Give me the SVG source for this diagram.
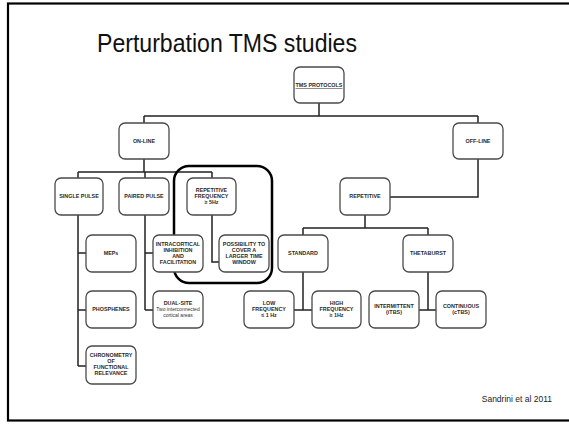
<svg xmlns="http://www.w3.org/2000/svg" width="569" height="426" viewBox="0 0 569 426">
<style>
.box{fill:#fff;stroke:#4a4a4a;stroke-width:1.3}
.t{font-family:"Liberation Sans",Arial,sans-serif;font-weight:bold;font-size:5.4px;fill:#2a2a2a;text-anchor:middle}
.n{font-family:"Liberation Sans",Arial,sans-serif;font-size:5px;fill:#333;text-anchor:middle}
.c{fill:none;stroke:#222;stroke-width:1.5}
</style>
<rect x="0" y="0" width="569" height="426" fill="#fff"/>
<rect id="frame" x="8" y="3.5" width="580" height="417" fill="none" stroke="#000" stroke-width="2.2"/>
<text x="97" y="52" font-family="Liberation Sans,Arial,sans-serif" font-size="26" fill="#111" textLength="260" lengthAdjust="spacingAndGlyphs">Perturbation TMS studies</text>
<text x="552" y="402" font-family="Liberation Sans,Arial,sans-serif" font-size="8.5" fill="#222" text-anchor="end">Sandrini et al 2011</text>

<g id="connectors" class="c">
<path d="M319,103V116M144,116H478M144,116V123M478,116V123"/>
<path d="M144,159V172M78,172H212M78,172V178M145,172V178M212,172V178"/>
<path d="M78,215V366M78,253H86M78,310H86M78,366H86"/>
<path d="M145,215V310M145,253H153M145,310H153"/>
<path d="M212,215V262H219"/>
<path d="M478,159V197H390"/>
<path d="M365,215V228M303,228H428M303,228V235M428,228V235"/>
<path d="M303,272V310M294,310H312"/>
<path d="M428,272V310M419,310H436"/>
</g>

<g id="highlight"><rect x="174" y="166" width="98" height="117" rx="15" fill="none" stroke="#000" stroke-width="2.5"/></g>

<g id="tms"><rect class="box" x="294" y="67" width="50" height="36" rx="6"/><text class="t" x="319" y="87" text-decoration="underline">TMS PROTOCOLS</text></g>
<g id="online"><rect class="box" x="119" y="123" width="50" height="36" rx="6"/><text class="t" x="144" y="143">ON-LINE</text></g>
<g id="offline"><rect class="box" x="453" y="123" width="50" height="36" rx="6"/><text class="t" x="478" y="143">OFF-LINE</text></g>
<g id="single"><rect class="box" x="55" y="178" width="48" height="37" rx="6"/><text class="t" x="79" y="198">SINGLE PULSE</text></g>
<g id="paired"><rect class="box" x="119" y="178" width="50" height="37" rx="6"/><text class="t" x="144" y="198">PAIRED PULSE</text></g>
<g id="repfreq"><rect class="box" x="187" y="178" width="49" height="37" rx="6"/><text class="t" x="211.5" y="192">REPETITIVE</text><text class="t" x="211.5" y="198">FREQUENCY</text><text class="t" x="211.5" y="204">≥ 5Hz</text></g>
<g id="meps"><rect class="box" x="86" y="235" width="50" height="37" rx="6"/><text class="t" x="111" y="255">MEPs</text></g>
<g id="phosphenes"><rect class="box" x="86" y="291" width="50" height="37" rx="6"/><text class="t" x="111" y="311">PHOSPHENES</text></g>
<g id="chrono"><rect class="box" x="86" y="346" width="50" height="38" rx="6"/><text class="t" x="111" y="357">CHRONOMETRY</text><text class="t" x="111" y="363">OF</text><text class="t" x="111" y="369">FUNCTIONAL</text><text class="t" x="111" y="375">RELEVANCE</text></g>
<g id="intra"><rect class="box" x="153" y="235" width="50" height="37" rx="6"/><text class="t" x="178" y="246">INTRACORTICAL</text><text class="t" x="178" y="252">INHIBITION</text><text class="t" x="178" y="258">AND</text><text class="t" x="178" y="264">FACILITATION</text></g>
<g id="dual"><rect class="box" x="153" y="291" width="50" height="37" rx="6"/><text class="t" x="178" y="305">DUAL-SITE</text><text class="n" x="178" y="311">Two interconnected</text><text class="n" x="178" y="317">cortical areas</text></g>
<g id="possib"><rect class="box" x="219" y="235" width="50" height="37" rx="6"/><text class="t" x="244" y="246">POSSIBILITY TO</text><text class="t" x="244" y="252">COVER A</text><text class="t" x="244" y="258">LARGER TIME</text><text class="t" x="244" y="264">WINDOW</text></g>
<g id="rep"><rect class="box" x="340" y="178" width="50" height="37" rx="6"/><text class="t" x="365" y="198">REPETITIVE</text></g>
<g id="standard"><rect class="box" x="278" y="235" width="50" height="37" rx="6"/><text class="t" x="303" y="255">STANDARD</text></g>
<g id="theta"><rect class="box" x="403" y="235" width="50" height="37" rx="6"/><text class="t" x="428" y="255">THETABURST</text></g>
<g id="low"><rect class="box" x="244" y="291" width="50" height="37" rx="6"/><text class="t" x="269" y="305">LOW</text><text class="t" x="269" y="311">FREQUENCY</text><text class="t" x="269" y="317">≤ 1 Hz</text></g>
<g id="high"><rect class="box" x="312" y="291" width="49" height="37" rx="6"/><text class="t" x="336.5" y="305">HIGH</text><text class="t" x="336.5" y="311">FREQUENCY</text><text class="t" x="336.5" y="317">≥ 1Hz</text></g>
<g id="inter"><rect class="box" x="369" y="291" width="50" height="37" rx="6"/><text class="t" x="394" y="308">INTERMITTENT</text><text class="t" x="394" y="314">(iTBS)</text></g>
<g id="cont"><rect class="box" x="436" y="291" width="50" height="37" rx="6"/><text class="t" x="461" y="308">CONTINUOUS</text><text class="t" x="461" y="314">(cTBS)</text></g>
</svg>
